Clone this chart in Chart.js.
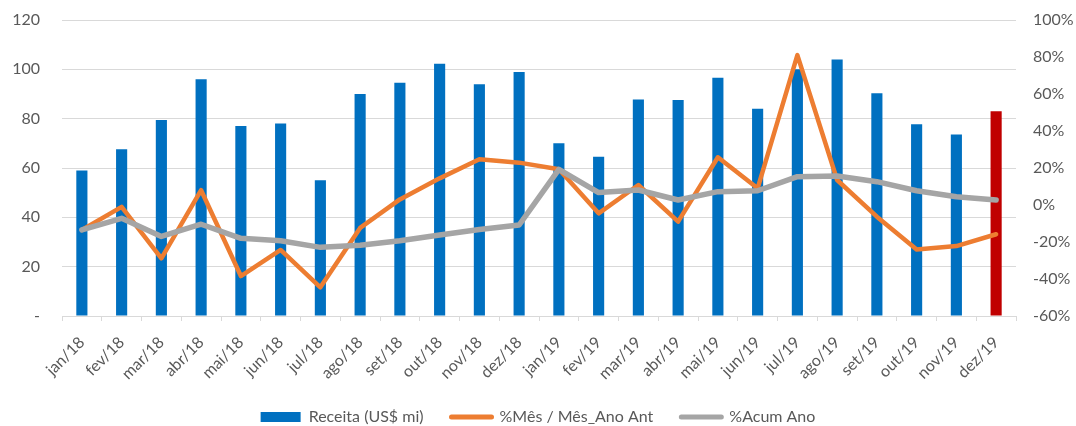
<!DOCTYPE html>
<html>
<head>
<meta charset="utf-8">
<script src="https://cdn.jsdelivr.net/npm/chart.js@4"></script>
<style>
  html, body { margin: 0; padding: 0; background: #fff; }
  #wrap { width: 1076px; height: 426px; }
</style>
</head>
<body>
<div id="wrap"><canvas id="receitaChart" width="1076" height="426"></canvas></div>
<script>
// Data
const labels = ['jan/18', 'fev/18', 'mar/18', 'abr/18', 'mai/18', 'jun/18', 'jul/18', 'ago/18', 'set/18', 'out/18', 'nov/18', 'dez/18',
  'jan/19', 'fev/19', 'mar/19', 'abr/19', 'mai/19', 'jun/19', 'jul/19', 'ago/19', 'set/19', 'out/19', 'nov/19', 'dez/19'];

const receita = [59, 67.6, 79.5, 96, 77, 78, 55, 90, 94.6, 102.3, 94, 98.9,
  70, 64.6, 87.8, 87.6, 96.6, 84, 100, 104, 90.3, 77.7, 73.6, 83];

const mesAnoAnt = [-13.5, -1, -28.8, 8, -38.4, -24.3, -44.5, -12.4, 3, 14.4, 24.7, 22.9,
  19.3, -4.5, 10.8, -9, 25.8, 9, 81, 13.5, -6.3, -24, -22.2, -15.8];

const acumAno = [-13.5, -7.2, -17, -10.4, -18, -19.3, -22.9, -21.8, -19.3, -16.2, -13.2, -10.8,
  19.3, 6.7, 8.1, 2.7, 7.2, 7.7, 15.3, 15.7, 12.6, 7.7, 4.5, 2.7];

const BLUE = '#0070C0';
const RED = '#C00000';
const ORANGE = '#ED7D31';
const GRAY = '#A5A5A5';
const GRID = '#D9D9D9';
const TEXT = '#595959';
const FONT = 'Lato, "Open Sans", sans-serif';

// last bar is red
const barColors = receita.map((v, i) => (i === receita.length - 1 ? RED : BLUE));

const ctx = document.getElementById('receitaChart').getContext('2d');

new Chart(ctx, {
  type: 'bar',
  data: {
    labels: labels,
    datasets: [
      {
        type: 'line',
        label: '%Mês / Mês_Ano Ant',
        data: mesAnoAnt,
        yAxisID: 'y1',
        borderColor: ORANGE,
        backgroundColor: ORANGE,
        borderWidth: 4.5,
        pointRadius: 0,
        tension: 0,
        borderJoinStyle: 'round',
        borderCapStyle: 'round',
        order: 1,
      },
      {
        type: 'line',
        label: '%Acum Ano',
        data: acumAno,
        yAxisID: 'y1',
        borderColor: GRAY,
        backgroundColor: GRAY,
        borderWidth: 5.5,
        pointRadius: 0,
        tension: 0,
        borderJoinStyle: 'round',
        borderCapStyle: 'round',
        order: 0,
      },
      {
        label: 'Receita (US$ mi)',
        data: receita,
        yAxisID: 'y',
        backgroundColor: barColors,
        categoryPercentage: 1,
        barPercentage: 0.28,
        order: 2,
      },
    ],
  },
  options: {
    responsive: false,
    animation: false,
    layout: {
      padding: { left: 0, right: 0, top: 20, bottom: -9 },
    },
    plugins: {
      tooltip: { enabled: false },
      legend: {
        position: 'bottom',
        labels: {
          font: { family: FONT, size: 16 },
          color: TEXT,
          usePointStyle: true,
          pointStyleWidth: 40,
          boxHeight: 10,
          padding: 28,
          sort: (a, b) => (a.text === 'Receita (US$ mi)' ? -1 : b.text === 'Receita (US$ mi)' ? 1 : a.datasetIndex - b.datasetIndex),
          generateLabels: (chart) => {
            const items = Chart.defaults.plugins.legend.labels.generateLabels(chart);
            items.forEach((it) => {
              const ds = chart.data.datasets[it.datasetIndex];
              if (ds.type === 'line') {
                it.pointStyle = 'line';
                it.strokeStyle = ds.borderColor;
                it.lineWidth = 5;
                it.lineCap = 'round';
              } else {
                it.pointStyle = 'rect';
                it.fillStyle = BLUE;
                it.lineWidth = 0;
              }
            });
            return items;
          },
        },
      },
    },
    scales: {
      x: {
        afterFit: (scale) => {
          scale.paddingLeft = 0;
          scale.paddingRight = 0;
          scale.height = 65;
        },
        grid: {
          display: true,
          drawOnChartArea: false,
          drawTicks: true,
          tickLength: 5,
          color: GRID,
        },
        border: { display: true, color: GRID },
        ticks: {
          font: { family: FONT, size: 16 },
          color: TEXT,
          minRotation: 45,
          maxRotation: 45,
          autoSkip: false,
          padding: 12,
        },
      },
      y: {
        position: 'left',
        min: 0,
        max: 120,
        afterFit: (scale) => {
          scale.width = 62;
          scale.paddingTop = 0;
          scale.paddingBottom = 0;
        },
        grid: { color: GRID, drawTicks: false, lineWidth: 1 },
        border: { display: false },
        ticks: {
          stepSize: 20,
          font: { family: FONT, size: 16 },
          color: TEXT,
          padding: 22,
          callback: (v) => (v === 0 ? '-' : v),
        },
      },
      y1: {
        position: 'right',
        min: -60,
        max: 100,
        afterFit: (scale) => {
          scale.width = 60;
          scale.paddingTop = 0;
          scale.paddingBottom = 0;
        },
        grid: { drawOnChartArea: false, drawTicks: false },
        border: { display: false },
        ticks: {
          stepSize: 20,
          font: { family: FONT, size: 16 },
          color: TEXT,
          padding: 17,
          callback: (v) => v + '%',
        },
      },
    },
  },
});
</script>
</body>
</html>
